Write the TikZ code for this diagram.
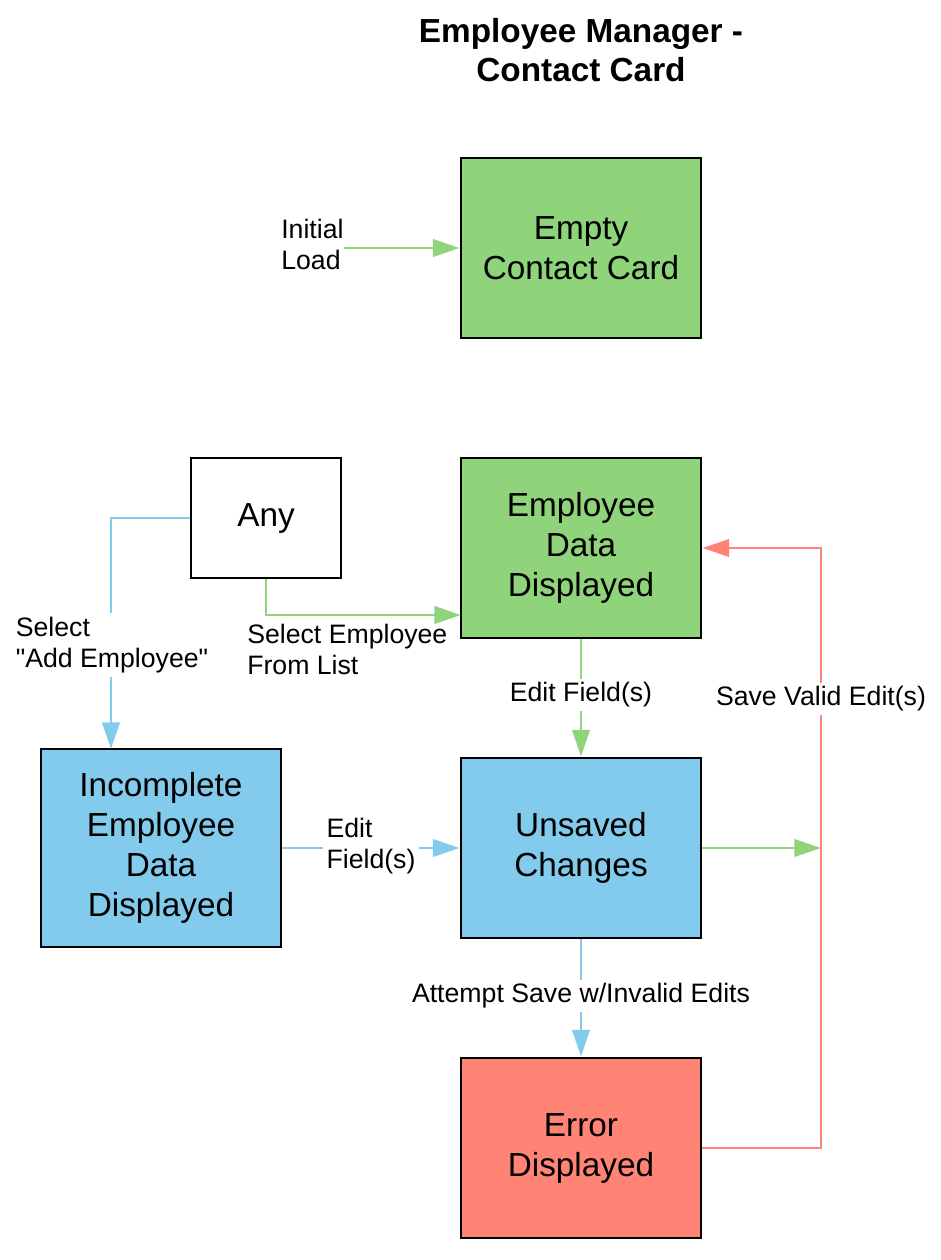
\documentclass[tikz,border=0pt]{standalone}
\usepackage{fontspec}
\setmainfont{Liberation Sans}[Ligatures=TeXOff]
\usetikzlibrary{arrows.meta}
\definecolor{stgreen}{RGB}{143,212,122}
\definecolor{stblue}{RGB}{130,203,236}
\definecolor{stred}{RGB}{255,132,118}
\tikzset{
	statebox/.style={draw=black, line width=2.2pt, align=center, inner sep=0pt,
		minimum width=180pt, minimum height=135pt,
		font=\fontsize{25}{30}\selectfont},
	edgelabel/.style={align=left, inner sep=3pt, fill=white,
		font=\fontsize{20}{23.25}\selectfont},
	conn/.style={line width=2.2pt, -{Triangle[length=20pt,width=13pt]}},
}
\begin{document}
\begin{tikzpicture}[x=0.75pt,y=-0.75pt]
			%%%%% START %%%%%
			\def\xmid{581}
			\def\xsave{821}
			\useasboundingbox (0,0) rectangle (940,1260);

			\node[align=center, font=\fontsize{25}{29}\selectfont\bfseries] (title) at (\xmid,50) {Employee Manager -\\Contact Card};

			% states
			\node[statebox, fill=stgreen] (empty) at (\xmid,248) {Empty\\Contact Card};
			\node[statebox, fill=white, minimum width=112.5pt, minimum height=90pt] (any) at (266,518) {Any};
			\node[statebox, fill=stgreen] (empdata) at (\xmid,548) {Employee\\Data\\Displayed};
			\node[statebox, fill=stblue, minimum height=148.5pt] (incomplete) at (161,848) {Incomplete\\Employee\\Data\\Displayed};
			\node[statebox, fill=stblue] (unsaved) at (\xmid,848) {Unsaved\\Changes};
			\node[statebox, fill=stred] (error) at (\xmid,1148) {Error\\Displayed};

			% free ends
			\coordinate (selin) at (461,615);
			\coordinate (addin) at (111,749);
			\coordinate (savein) at (\xsave,848);

			% connectors
			\node[edgelabel, fill=none, inner sep=0pt, anchor=west] (initial) at (281,244) {Initial\\Load};
			\draw[conn, stgreen] (initial.east |- empty.west) -- (empty.west);
			\draw[conn, stgreen] (any.south) |- (selin);
			\draw[conn, stblue] (any.west) -| (addin);
			\draw[conn, stgreen] (empdata.south) -- (unsaved.north);
			\draw[conn, stblue] (incomplete.east) -- (unsaved.west);
			\draw[conn, stred] (error.east) -| (savein) |- (empdata.east);
			\draw[conn, stgreen] (unsaved.east) -- (savein);
			\draw[conn, stblue] (unsaved.south) -- (error.north);

			% labels
			\node[edgelabel, fill=none, anchor=north west, inner sep=0pt] (sellabel) at (247,624) {Select Employee\\From List};
			\node[edgelabel] (addlabel) at (112,645) {Select\\"Add Employee"};
			\node[edgelabel] (editlabel) at (\xmid,695) {Edit Field(s)};
			\node[edgelabel] (editlabeltwo) at (371,846) {Edit\\Field(s)};
			\node[edgelabel] (savelabel) at (\xsave,699) {Save Valid Edit(s)};
			\node[edgelabel] (attemptlabel) at (\xmid,996) {Attempt Save w/Invalid Edits};
			%%%%% END %%%%%
\end{tikzpicture}
\end{document}
